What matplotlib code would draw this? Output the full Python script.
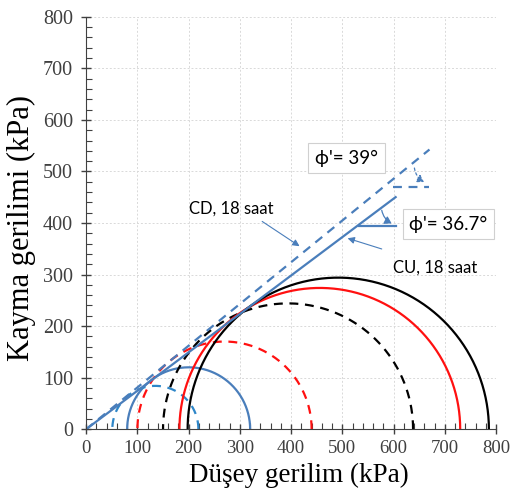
import numpy as np
import matplotlib
matplotlib.use("Agg")
import matplotlib.pyplot as plt
from matplotlib.patches import FancyArrowPatch
from matplotlib.ticker import MultipleLocator

# Mohr circles: (sigma3, sigma1) in kPa
circles = {
    "cu_blue":   (80, 320),
    "cd_blue":   (51, 219),
    "cd_red":    (100, 440),
    "cd_black":  (150, 638),
    "cu_red":    (182, 730),
    "cu_black":  (198, 786),
}
circle_styles = {
    "cu_blue":  dict(color="#4A7EBB", ls="-"),
    "cd_blue":  dict(color="#2E86C8", ls=(0, (4, 3))),
    "cd_red":   dict(color="#FF1010", ls=(0, (4, 3))),
    "cd_black": dict(color="#000000", ls=(0, (4, 3))),
    "cu_red":   dict(color="#FF1010", ls="-"),
    "cu_black": dict(color="#000000", ls="-"),
}
phi_cu = 36.7   # degrees
phi_cd = 39.0
cu_xmax = 604
cd_xmax = 670

xticks = [0, 100, 200, 300, 400, 500, 600, 700, 800]
yticks = [0, 100, 200, 300, 400, 500, 600, 700, 800]

serif = "Liberation Serif"
sans = "Lato"
plt.rcParams["font.family"] = [serif, "DejaVu Serif"]

fig = plt.figure(figsize=(5.13, 4.95), dpi=100)
ax = fig.add_axes([0.168, 0.133, 0.799, 0.833])

ax.set_xlim(0, 800)
ax.set_ylim(0, 800)
ax.grid(True, color="#D9D9D9", ls=(0, (2, 2)), lw=0.7)
ax.set_axisbelow(True)
for s in ["top", "right"]:
    ax.spines[s].set_visible(False)
ax.spines["left"].set_color("#404040")
ax.spines["bottom"].set_color("#404040")
ax.xaxis.set_minor_locator(MultipleLocator(20))
ax.yaxis.set_minor_locator(MultipleLocator(20))
ax.set_xticks(xticks, labels=[str(v) for v in xticks], fontsize=13.5,
              family=serif, color="#404040")
ax.set_yticks(yticks, labels=[str(v) for v in yticks], fontsize=14.5,
              family=serif, color="#404040")
ax.tick_params(which="major", direction="inout", length=7, width=1, color="#404040")
ax.tick_params(axis="x", which="major", pad=4)
ax.tick_params(axis="y", which="major", pad=6)
ax.tick_params(which="minor", direction="in", length=4, width=0.8, color="#404040")

ax.set_xlabel("Düşey gerilim (kPa)", fontsize=19.5, va="center")
ax.xaxis.set_label_coords(0.52, -0.112)
ax.set_ylabel("Kayma gerilimi (kPa)", fontsize=22, va="center")
ax.yaxis.set_label_coords(-0.157, 0.488)

theta = np.linspace(0, np.pi, 300)
for key, (s3, s1) in circles.items():
    c = (s1 + s3) / 2
    r = (s1 - s3) / 2
    st = circle_styles[key]
    ax.plot(c + r * np.cos(theta), r * np.sin(theta), color=st["color"],
            ls=st["ls"], lw=1.6)

blue = "#4A7EBB"
x = np.array([0, cu_xmax])
ax.plot(x, np.tan(np.radians(phi_cu)) * x, color=blue, lw=1.6)
x = np.array([0, cd_xmax])
ax.plot(x, np.tan(np.radians(phi_cd)) * x, color=blue, lw=1.6, ls=(0, (4, 3)))

# angle markers
ax.plot([532, 605], [394, 394], color=blue, lw=1.6)
ax.plot([598, 669], [470, 470], color=blue, lw=1.6, ls=(0, (4, 3)))
ax.add_patch(FancyArrowPatch((576, 430), (601, 397), connectionstyle="arc3,rad=0.3",
                             arrowstyle="-|>,head_length=4,head_width=2.5",
                             color=blue, lw=0.9))
ax.add_patch(FancyArrowPatch((640, 512), (664, 477), connectionstyle="arc3,rad=0.3",
                             arrowstyle="-|>,head_length=4,head_width=2.5",
                             color=blue, lw=0.9, ls=(0, (2, 2))))

box = dict(boxstyle="square,pad=0.35", fc="white", ec="#D0D0D0", lw=0.8)
ax.text(508, 526, "ϕ'= 39°", fontsize=13.5, family=[sans, "DejaVu Sans"], ha="center", va="center", bbox=box)
ax.text(707, 398, "ϕ'= 36.7°", fontsize=13.5, family=[sans, "DejaVu Sans"], ha="center", va="center", bbox=box)

ax.text(284, 427, "CD, 18 saat", fontsize=12, family=sans, ha="center", va="center")
ax.text(682, 313, "CU, 18 saat", fontsize=12, family=sans, ha="center", va="center")
ax.add_patch(FancyArrowPatch((339, 406), (421, 352),
                             arrowstyle="-|>,head_length=4,head_width=2",
                             color=blue, lw=0.8))
ax.add_patch(FancyArrowPatch((582, 348), (505, 372),
                             arrowstyle="-|>,head_length=4,head_width=2",
                             color=blue, lw=0.8))

fig.savefig("out.png", dpi=100)
